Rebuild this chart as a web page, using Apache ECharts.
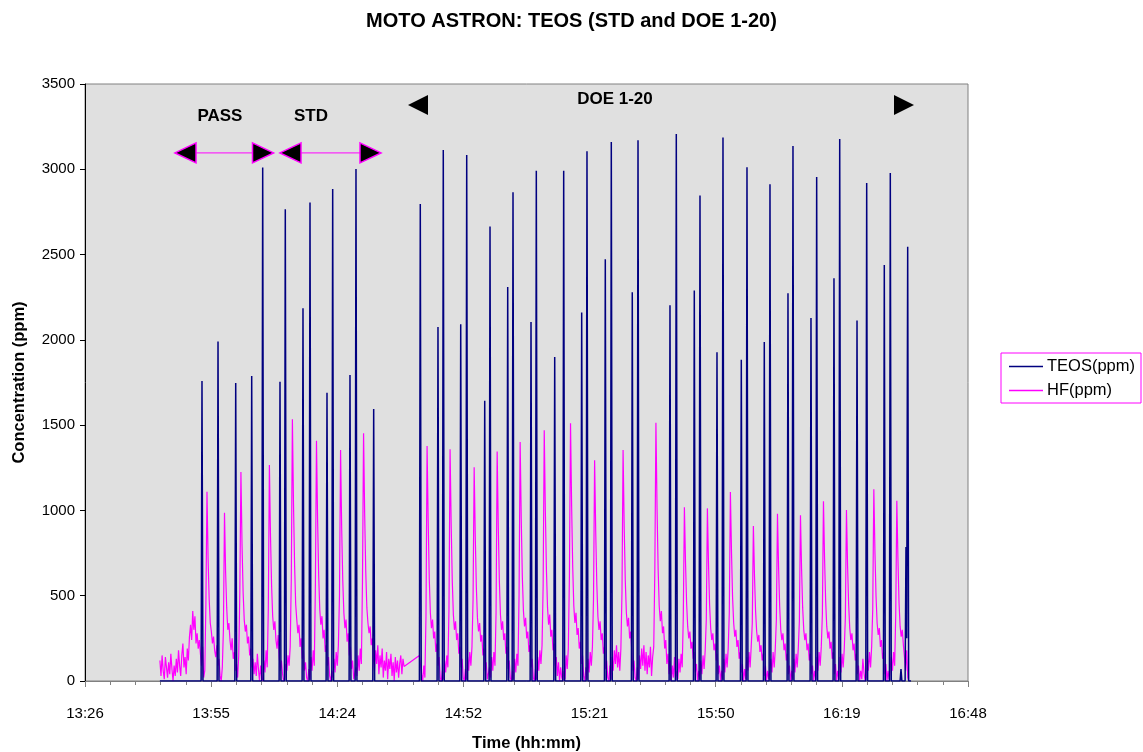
<!DOCTYPE html>
<html><head><meta charset="utf-8">
<script src="https://cdn.jsdelivr.net/npm/echarts@6/dist/echarts.min.js"></script>
<style>html,body{margin:0;padding:0;background:#fff}#c{width:1143px;height:752px}</style>
</head><body><div id="c"></div>
<script>
// ---- axis (minutes after midnight) ----
const xMinMinutes = 806.4, xMaxMinutes = 1008, xStepMinutes = 28.8;
const timeTickLabels = ['13:26','13:55','14:24','14:52','15:21','15:50','16:19','16:48'];
const yMaxPpm = 3500, yStepPpm = 500;

// ---- TEOS(ppm): [time in minutes, ppm] ----
const teosPoints = [
[823.5,0],
[832.91,0],[833.11,1759],[833.33,0],
[836.57,0],[836.77,1990],[836.99,0],
[840.61,0],[840.81,1747],[841.03,0],
[844.26,0],[844.46,1788],[844.68,0],
[846.77,0],[846.97,3010],[847.19,0],
[850.72,0],[850.92,1755],[851.14,0],
[851.93,0],[852.13,2765],[852.35,0],
[855.97,0],[856.17,2185],[856.39,0],
[857.57,0],[857.77,2806],[857.99,0],
[861.45,0],[861.65,1690],[861.87,0],
[862.75,0],[862.95,2884],[863.17,0],
[866.70,0],[866.90,1794],[867.12,0],
[868.07,0],[868.27,3002],[868.49,0],
[872.11,0],[872.31,1595],[872.53,0],
[882.75,0],[882.95,2797],[883.17,0],
[886.79,0],[886.99,2075],[887.21,0],
[888.00,0],[888.20,3113],[888.42,0],
[891.98,0],[892.18,2091],[892.40,0],
[893.35,0],[893.55,3084],[893.77,0],
[897.46,0],[897.66,1643],[897.88,0],
[898.67,0],[898.87,2664],[899.09,0],
[902.71,0],[902.91,2310],[903.13,0],
[903.92,0],[904.12,2865],[904.34,0],
[908.03,0],[908.23,2105],[908.45,0],
[909.24,0],[909.44,2992],[909.66,0],
[913.44,0],[913.64,1900],[913.86,0],
[915.49,0],[915.69,2992],[915.91,0],
[919.60,0],[919.80,2160],[920.02,0],
[920.81,0],[921.01,3105],[921.23,0],
[924.99,0],[925.19,2472],[925.41,0],
[926.36,0],[926.56,3160],[926.78,0],
[931.15,0],[931.35,2279],[931.57,0],
[932.46,0],[932.66,3170],[932.88,0],
[939.76,0],[939.96,2203],[940.18,0],
[941.20,0],[941.40,3207],[941.62,0],
[945.31,0],[945.51,2290],[945.73,0],
[946.61,0],[946.81,2847],[947.03,0],
[950.49,0],[950.69,1927],[950.91,0],
[951.86,0],[952.06,3186],[952.28,0],
[956.04,0],[956.24,1884],[956.46,0],
[957.34,0],[957.54,3012],[957.76,0],
[961.29,0],[961.49,1988],[961.71,0],
[962.59,0],[962.79,2912],[963.01,0],
[966.70,0],[966.90,2273],[967.12,0],
[967.84,0],[968.04,3137],[968.26,0],
[971.95,0],[972.15,2128],[972.37,0],
[973.25,0],[973.45,2955],[973.67,0],
[977.20,0],[977.40,2361],[977.62,0],
[978.51,0],[978.71,3178],[978.93,0],
[982.46,0],[982.66,2113],[982.88,0],
[984.67,0],[984.87,2920],[985.09,0],
[988.69,0],[988.89,2439],[989.11,0],
[990.06,0],[990.26,2978],[990.48,0],
[992.5,0],[992.7,70],[992.9,0],
[993.64,0],[993.84,786],[994.0,250],[994.23,2546],[994.45,0],
[995.0,0]
];

// ---- HF(ppm): sampled every 0.25 min from 823.5 min (13:43:30); null = missing samples ----
const hfStartMinutes = 823.5, hfStepMinutes = 0.25;
const hfPpm = [
120,30,150,60,10,140,80,20,110,40,
160,70,0,90,30,130,50,180,90,30,
150,220,80,140,40,190,120,260,330,240,
410,300,380,220,280,190,240,160,90,200,
20,60,450,1110,720,480,340,290,220,260,
180,140,210,90,130,30,0,80,300,987,
640,430,300,340,240,180,250,130,170,60,
100,20,150,520,1225,800,520,360,290,330,
220,260,150,190,80,130,40,110,30,160,
70,0,90,20,0,120,50,180,80,420,
1266,850,560,380,300,350,240,190,270,140,
60,120,40,0,20,100,60,150,90,200,
600,1534,1040,680,450,360,280,330,200,250,
130,180,60,110,20,0,70,10,140,60,
180,90,560,1409,950,620,420,330,380,250,
300,170,210,90,140,30,0,60,20,130,
50,170,90,210,500,1354,900,590,400,310,
360,230,280,150,200,70,120,10,0,80,
30,150,60,190,100,580,1452,980,640,430,
340,280,320,210,250,140,60,180,100,210,
40,150,80,190,20,120,60,170,10,130,
70,160,30,110,0,140,50,120,20,100,
150,40,130,85,null,null,null,null,null,null,
null,null,null,null,null,null,null,150,160,40,
0,90,20,380,1378,940,600,400,310,360,
250,290,170,220,90,140,20,0,60,10,
120,50,150,80,420,1358,920,590,390,300,
350,240,280,160,200,80,130,20,0,70,
10,140,60,170,90,200,480,1253,850,550,
370,290,340,230,270,150,190,60,110,10,
0,80,20,140,60,170,90,400,1345,910,
590,390,300,350,240,280,160,200,70,120,
20,0,60,10,130,50,160,90,500,1401,
950,610,410,320,370,250,290,170,210,80,
130,20,0,70,10,140,60,180,100,210,
560,1470,1000,650,430,330,390,260,300,180,
220,90,140,30,110,0,80,20,0,60,
10,150,70,190,620,1511,1030,670,440,340,
400,270,310,190,230,100,150,30,0,80,
10,130,50,170,90,200,480,1294,880,570,
380,300,350,240,280,160,200,70,120,20,
0,90,10,140,60,180,100,210,80,170,
60,190,520,1354,910,590,400,320,370,250,
290,170,60,120,20,0,80,10,150,70,
190,90,210,60,170,40,150,80,200,30,
140,200,650,1514,1020,660,440,350,410,280,
320,190,240,100,160,40,120,0,90,20,
140,0,60,10,130,50,160,80,380,1018,
700,460,320,250,290,190,230,130,170,50,
100,0,60,10,120,40,150,70,180,360,
1012,690,450,310,240,280,180,220,120,160,
40,90,0,60,10,130,50,160,80,190,
400,1108,760,490,340,260,300,200,240,130,
170,50,100,0,70,10,140,60,170,80,
200,340,909,620,410,290,230,270,170,210,
120,160,30,90,0,60,10,0,130,50,
170,80,190,360,981,670,440,300,240,280,
180,220,120,160,40,90,0,60,10,130,
50,160,80,190,350,971,660,430,300,240,
280,180,220,120,160,40,90,0,60,10,
140,60,170,90,200,390,1054,720,470,320,
250,290,190,230,130,170,40,100,0,60,
10,140,50,160,80,190,370,1003,680,450,
310,240,280,180,220,120,160,40,90,0,
60,10,130,50,0,20,150,60,170,80,
200,420,1124,760,500,340,270,310,200,240,
130,170,40,100,0,60,10,0,140,60,
170,90,390,1057,720,460,320,260,300,210,
140,60,180,20,0
];

// ---- annotation anchors (time in minutes, ppm) ----
const passArrow = {from: 826.95, to: 849.44, ppm: 3096, label: 'PASS', labelTime: 837.2, labelPpm: 3313};
const stdArrow  = {from: 850.92, to: 873.98, ppm: 3096, label: 'STD',  labelTime: 858.0, labelPpm: 3313};
const doeRange  = {from: 880.14, to: 995.67, ppm: 3377, label: 'DOE 1-20', labelTime: 927.4, labelPpm: 3412};

const hfData = hfPpm.map((v, i) => [hfStartMinutes + i * hfStepMinutes, v]);

const FONT = '"Liberation Sans", Arial, sans-serif';
const chart = echarts.init(document.getElementById('c'), null, {renderer: 'canvas'});

const option = {
  animation: false,
  backgroundColor: '#fff',
  textStyle: {fontFamily: FONT, color: '#000'},
  title: {
    text: 'MOTO ASTRON: TEOS (STD and DOE 1-20)',
    left: 'center', top: 6,
    textStyle: {fontFamily: FONT, fontSize: 20, fontWeight: 'bold', color: '#000'}
  },
  legend: {
    orient: 'vertical', left: 1001, top: 353,
    data: ['TEOS(ppm)', 'HF(ppm)'],
    icon: 'rect', itemWidth: 34, itemHeight: 1.5, itemGap: 7,
    padding: [5, 6, 4, 8],
    borderColor: '#FF00FF', borderWidth: 1, backgroundColor: '#fff',
    textStyle: {fontFamily: FONT, fontSize: 16.5, color: '#000', padding: [0, 0, 0, -1]}
  },
  grid: {
    left: 85, right: 175, top: 84, bottom: 71,
    outerBoundsMode: 'none', containLabel: false,
    show: true, backgroundColor: '#E0E0E0', borderColor: '#808080', borderWidth: 1
  },
  xAxis: {
    type: 'value', min: xMinMinutes, max: xMaxMinutes, interval: xStepMinutes,
    name: 'Time (hh:mm)', nameLocation: 'middle', nameGap: 54,
    nameTextStyle: {fontFamily: FONT, fontSize: 16.5, fontWeight: 'bold', color: '#000'},
    axisLine: {show: true, lineStyle: {color: '#808080', width: 1}},
    axisTick: {show: true, length: 6, lineStyle: {color: '#808080'}},
    minorTick: {show: true, splitNumber: 5, length: 4, lineStyle: {color: '#808080'}},
    splitLine: {show: false},
    axisLabel: {
      fontFamily: FONT, fontSize: 15, color: '#000', margin: 25,
      formatter: v => timeTickLabels[Math.round((v - xMinMinutes) / xStepMinutes)] || ''
    }
  },
  yAxis: {
    type: 'value', min: 0, max: yMaxPpm, interval: yStepPpm,
    name: 'Concentration (ppm)', nameLocation: 'middle', nameGap: 57,
    nameTextStyle: {fontFamily: FONT, fontSize: 16.5, fontWeight: 'bold', color: '#000'},
    axisLine: {show: true, lineStyle: {color: '#000', width: 1}},
    axisTick: {show: true, length: 5, lineStyle: {color: '#000'}},
    splitLine: {show: false},
    axisLabel: {fontFamily: FONT, fontSize: 15, color: '#000', margin: 10, formatter: v => String(v)}
  },
  series: [
    {
      name: 'TEOS(ppm)', type: 'line', data: teosPoints, showSymbol: false, symbol: 'none',
      z: 3, lineStyle: {color: '#000080', width: 1.5}, itemStyle: {color: '#000080'}
    },
    {
      name: 'HF(ppm)', type: 'line', data: hfData, showSymbol: false, symbol: 'none',
      connectNulls: true, z: 2, lineStyle: {color: '#FF00FF', width: 1.2}, itemStyle: {color: '#FF00FF'}
    }
  ]
};
chart.setOption(option);

function px(t, v) { return chart.convertToPixel({gridIndex: 0}, [t, v]); }
const TRI_W = 21, TRI_H = 10;
const graphics = [];
function outlinedArrow(a) {
  const L = px(a.from, a.ppm), R = px(a.to, a.ppm);
  graphics.push({type: 'line', z: 20, shape: {x1: L[0] + TRI_W, y1: L[1], x2: R[0] - TRI_W, y2: R[1]},
    style: {stroke: '#FF00FF', lineWidth: 1}});
  graphics.push({type: 'polygon', z: 21, shape: {points: [[L[0], L[1]], [L[0] + TRI_W, L[1] - TRI_H], [L[0] + TRI_W, L[1] + TRI_H]]},
    style: {fill: '#000', stroke: '#FF00FF', lineWidth: 1.5}});
  graphics.push({type: 'polygon', z: 21, shape: {points: [[R[0], R[1]], [R[0] - TRI_W, R[1] - TRI_H], [R[0] - TRI_W, R[1] + TRI_H]]},
    style: {fill: '#000', stroke: '#FF00FF', lineWidth: 1.5}});
  const T = px(a.labelTime, a.labelPpm);
  graphics.push({type: 'text', z: 22, x: T[0], y: T[1],
    style: {text: a.label, align: 'center', verticalAlign: 'middle', fontFamily: FONT, fontSize: 17, fontWeight: 'bold', fill: '#000'}});
}
outlinedArrow(passArrow);
outlinedArrow(stdArrow);
(function () {
  const L = px(doeRange.from, doeRange.ppm), R = px(doeRange.to, doeRange.ppm);
  graphics.push({type: 'polygon', z: 21, shape: {points: [[L[0], L[1]], [L[0] + 20, L[1] - TRI_H], [L[0] + 20, L[1] + TRI_H]]},
    style: {fill: '#000'}});
  graphics.push({type: 'polygon', z: 21, shape: {points: [[R[0], R[1]], [R[0] - 20, R[1] - TRI_H], [R[0] - 20, R[1] + TRI_H]]},
    style: {fill: '#000'}});
  const T = px(doeRange.labelTime, doeRange.labelPpm);
  graphics.push({type: 'text', z: 22, x: T[0], y: T[1],
    style: {text: doeRange.label, align: 'center', verticalAlign: 'middle', fontFamily: FONT, fontSize: 17, fontWeight: 'bold', fill: '#000'}});
})();
chart.setOption({graphic: graphics});
</script>
</body></html>
